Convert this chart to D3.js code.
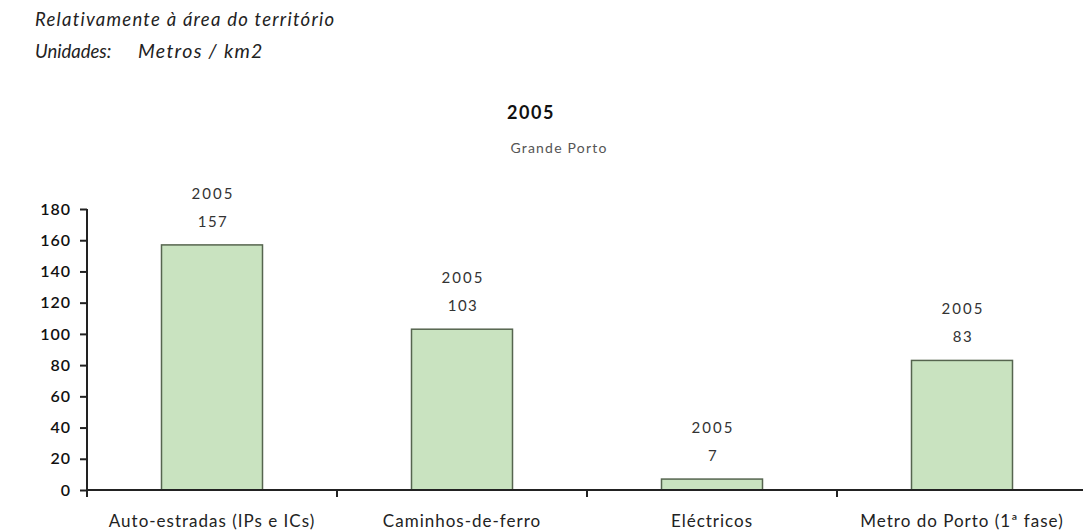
<!DOCTYPE html>
<html><head><meta charset="utf-8">
<script src="https://cdn.jsdelivr.net/npm/d3@7"></script>
<style>
body{margin:0;background:#fff;}
text{font-family:Lato, "Open Sans", sans-serif;}
</style></head>
<body><svg id="c" width="1083" height="531"></svg>
<script>
const categories = ["Auto-estradas (IPs e ICs)", "Caminhos-de-ferro", "Eléctricos", "Metro do Porto (1ª fase)"];
const values = [157, 103, 7, 83];
const seriesName = "2005";
const yTicks = [0, 20, 40, 60, 80, 100, 120, 140, 160, 180];

const svg = d3.select("#c");
const x0 = 87, x1 = 1087, yTop = 209, yBot = 490;
const x = d3.scaleBand().domain(categories).range([x0, x1]).paddingInner(0.596).paddingOuter(0.298);
const y = d3.scaleLinear().domain([0, 180]).range([yBot, yTop]);

// header texts
const hdr = (tx, xx, yy, fs, ls) => svg.append("text").attr("x", xx).attr("y", yy).attr("font-size", fs)
  .attr("font-style", "italic").attr("letter-spacing", ls).attr("fill", "#222").text(tx);
hdr("Relativamente à área do território", 35, 26, 18.5, 1.25);
hdr("Unidades:", 35, 58, 18.5, 0);
hdr("Metros / km2", 138, 58, 19.5, 1.3);

svg.append("text").attr("x", 531).attr("y", 119).attr("text-anchor", "middle").attr("font-size", 18)
  .attr("font-weight", "bold").attr("letter-spacing", 1.5).attr("fill", "#111").text(seriesName);
svg.append("text").attr("x", 559).attr("y", 153).attr("text-anchor", "middle").attr("font-size", 14)
  .attr("letter-spacing", 1.2).attr("fill", "#555").text("Grande Porto");

// bars
svg.selectAll("rect.bar").data(values).join("rect").attr("class", "bar")
  .attr("x", (d, i) => x(categories[i]))
  .attr("width", x.bandwidth())
  .attr("y", d => y(d))
  .attr("height", d => y(0) - y(d))
  .attr("fill", "#c9e3c0").attr("stroke", "#56654f").attr("stroke-width", 1.5);

// data labels
const cx = i => x(categories[i]) + x.bandwidth() / 2;
svg.selectAll("text.yr").data(values).join("text").attr("class", "yr")
  .attr("x", (d, i) => cx(i) + 1)
  .attr("y", d => y(d) - 46).attr("text-anchor", "middle").attr("font-size", 15)
  .attr("letter-spacing", 2).attr("fill", "#333").text(seriesName);
svg.selectAll("text.val").data(values).join("text").attr("class", "val")
  .attr("x", (d, i) => cx(i) + 1)
  .attr("y", d => y(d) - 18).attr("text-anchor", "middle").attr("font-size", 15)
  .attr("letter-spacing", 1.5).attr("fill", "#333").text(d => d);

// y axis
const ya = svg.append("g").attr("transform", `translate(${x0},0)`)
  .call(d3.axisLeft(y).tickValues(yTicks).tickSize(7).tickPadding(9));
ya.select(".domain").attr("stroke", "#222").attr("stroke-width", 2).attr("d", `M0,${yTop}V${yBot + 7}`);
ya.selectAll(".tick line").attr("stroke", "#222").attr("stroke-width", 2);
ya.selectAll(".tick text").attr("font-size", 16).attr("font-weight", 600).attr("letter-spacing", 1)
  .attr("fill", "#111").attr("font-family", "Lato, sans-serif");

// x axis
const xa = svg.append("g").attr("transform", `translate(0,${yBot})`)
  .call(d3.axisBottom(x).tickSize(0).tickPadding(25));
xa.select(".domain").attr("stroke", "#222").attr("stroke-width", 2).attr("d", `M${x0},0H${x1}`);
xa.selectAll(".tick text").attr("font-size", 17).attr("letter-spacing", 1).attr("fill", "#222")
  .attr("font-family", "Lato, sans-serif");
const step = x.step();
const bounds = categories.slice(1).map(c => x(c) - step * x.paddingInner() / 2);
xa.selectAll("line.bound").data(bounds).join("line").attr("class", "bound")
  .attr("x1", d => d).attr("x2", d => d).attr("y1", 0).attr("y2", 7)
  .attr("stroke", "#222").attr("stroke-width", 2);
</script></body></html>
